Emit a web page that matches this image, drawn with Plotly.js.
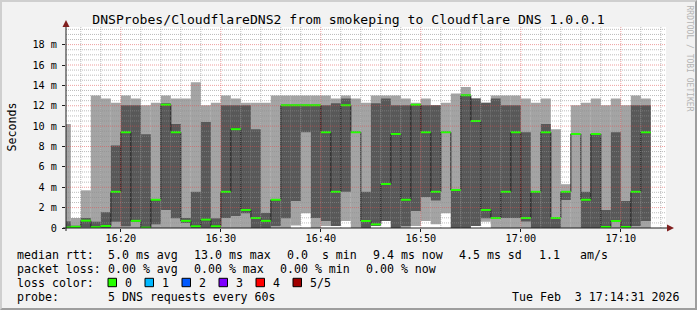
<!DOCTYPE html>
<html><head><meta charset="utf-8">
<script src="https://cdn.plot.ly/plotly-3.0.1.min.js"></script>
<style>
html,body{margin:0;padding:0;background:#f2f2f2;}
#wrap{position:relative;width:697px;height:310px;overflow:hidden;}
#chart{width:697px;height:310px;}
#frame{position:absolute;left:0;top:0;width:697px;height:310px;box-sizing:border-box;border:2px solid;border-color:#cfcfcf #9e9e9e #9e9e9e #cfcfcf;pointer-events:none;}
</style>
</head><body>
<div id="wrap"><div id="chart"></div><div id="frame"></div></div>
<script>
// ---- data (milliseconds): sorted DNS probe times per 1-minute step, first step starts 16:14 ----
const firstStep = Date.UTC(2026, 1, 3, 16, 14, 0);
const stepMs = 60000;
const pingMin = [0,0,0,0,0,0,0,0,0,0,
  0,0,0,0,0,0,0,0,0,0,
  0,0,0,0.25,1.45,0,0.2,0.2,0.69,0,
  0,0.2,0.69,0,0,0.2,0.69,0.36,1.45,0,
  0,0.2,0.62,0,0,0,0,0,0,0,
  0,0,0,0,0,0,0,0,0];
const ping2 = [0,0,0.05,0,0,0.62,0.18,0.62,0,0.36,
  1.77,0.95,0.5,0,0,0,0.98,1.18,1.45,0,
  0,0.2,0.95,2.65,9.4,0.97,0.69,0.2,3.55,9.38,
  0,0.2,0.69,0,0.2,1.66,3.04,2.7,9.38,0,
  0,0.2,0.95,0.9,0.97,0.97,0.65,0,0,0,
  2.75,9.2,0,0,0,0.65,0,0.2,0.69];
const median = [0.05,0.12,0.72,0.08,0.2,3.55,9.4,0.7,0.03,2.77,
  12.1,9.4,0.7,0.17,0.82,0.17,3.55,9.7,1.77,0.98,
  0.7,2.77,12.05,12.05,12.05,12.05,9.4,3.55,12.05,9.4,
  0.69,0.36,4.32,9.23,2.77,12.1,9.4,3.55,9.4,3.73,
  13.03,10.5,1.77,0.98,3.55,9.4,0.98,3.55,9.4,0.98,
  3.55,9.23,2.77,9.23,0.1,0.69,0.1,3.55,9.4];
const ping4 = [0.65,0.22,0.98,0.62,1.55,8.1,12.05,12.05,9.2,2.8,
  12.25,10.2,0.98,3.55,10.4,0.95,12.05,12.05,12.05,9.7,
  1.47,2.8,12.07,12.07,12.07,12.07,12.05,12.25,12.7,9.42,
  3.55,12.25,12.7,12.05,12.05,12.12,12.05,12.05,9.42,3.75,
  13.05,12.7,12.3,12.7,12.05,12.05,9.4,3.6,10.2,1.0,
  3.57,9.3,3.55,9.25,1.77,9.4,2.65,12.05,12.05];
const pingMax = [10.2,0.98,3.7,13.0,12.7,12.3,13.0,12.7,12.05,12.3,
  13.0,12.7,12.7,14.3,12.05,12.3,13.0,12.7,12.3,12.3,
  12.3,13.0,13.0,13.0,13.0,13.0,13.0,12.7,13.0,12.7,
  12.3,13.0,13.0,13.0,12.7,12.3,12.7,12.07,12.3,13.2,
  13.85,12.7,12.3,13.0,13.0,13.0,12.7,12.3,12.7,9.7,
  4.3,12.05,12.3,12.7,12.05,12.7,12.05,13.0,12.7];

const yTickVals = [0,2,4,6,8,10,12,14,16,18];
const yTickText = ['0','2 m','4 m','6 m','8 m','10 m','12 m','14 m','16 m','18 m'];
const xTickText = ['16:20','16:30','16:40','16:50','17:00','17:10'];
const lossLabels = ['0','1','2','3','4','5/5'];
const lossColors = ['#26ff00','#00b8ff','#0059ff','#7e00ff','#ff0000','#a00000'];

// ---- geometry ----
const W = 697, H = 310;
const M = {l:66, r:31, t:27, b:82};
const PW = W - M.l - M.r, PH = H - M.t - M.b;
const yMax = 19.73;
const rangeStart = Date.UTC(2026,1,3,16,14,31), rangeEnd = Date.UTC(2026,1,3,17,14,31);
const px = x => (x - M.l) / PW;
const py = y => (H - M.b - y) / PH;
const mono = 'DejaVu Sans Mono';

const starts = pingMax.map((_, i) => firstStep + i * stepMs);
const centers = starts.map(t => t + stepMs / 2);
const xTickVals = xTickText.map(s => { const [h,m] = s.split(':').map(Number); return Date.UTC(2026,1,3,h,m,0); });

const traces = [
  {type:'bar', x:centers, base:pingMin, y:pingMax.map((v,i)=>v-pingMin[i]), width:stepMs,
   marker:{color:'#a4a4a4', line:{width:0}}, hoverinfo:'skip', showlegend:false},
  {type:'bar', x:centers, base:ping2, y:ping4.map((v,i)=>v-ping2[i]), width:stepMs,
   marker:{color:'#585858', line:{width:0}}, hoverinfo:'skip', showlegend:false},
  {type:'scatter', mode:'lines', x:starts.concat([starts[starts.length-1]+stepMs]),
   y:median.concat([median[median.length-1]]), line:{shape:'hv', color:'#202020', width:1},
   hoverinfo:'skip', showlegend:false},
];
const gx = [], gy = [];
starts.forEach((t, i) => { gx.push(t, t + stepMs, null); gy.push(median[i], median[i], null); });
traces.push({type:'scatter', mode:'lines', x:gx, y:gy, line:{color:lossColors[0], width:2},
  hoverinfo:'skip', showlegend:false, connectgaps:false});

// ---- grid (drawn above the smoke, like rrdtool) ----
const shapes = [];
const minorCol = 'rgba(143,143,143,0.6)', majorCol = 'rgba(222,79,79,0.55)';
for (let i = 1; i * 0.5 < yMax; i++) {
  const v = i * 0.5, major = (i % 4 === 0);
  shapes.push({type:'line', layer:'above', xref:'paper', yref:'y', x0:0, x1:1, y0:v, y1:v,
    line:{color: major ? majorCol : minorCol, width:1, dash:'1px,1px'}});
}
const hour16 = Date.UTC(2026,1,3,16,0,0);
for (let m = 16; m <= 74; m += 2) {
  const t = hour16 + m * 60000, major = (m % 10 === 0);
  shapes.push({type:'line', layer:'above', xref:'x', yref:'paper', x0:t, x1:t, y0:0, y1:1,
    line:{color: major ? majorCol : minorCol, width:1, dash:'1px,1px'}});
}
// axes + arrows
const axisCol = '#1f1f1f', arrowCol = '#801f1f';
shapes.push({type:'line', layer:'above', xref:'paper', yref:'paper', x0:px(63), x1:px(669), y0:py(228), y1:py(228), line:{color:axisCol, width:1}});
shapes.push({type:'line', layer:'above', xref:'paper', yref:'paper', x0:px(66), x1:px(66), y0:py(231), y1:py(24), line:{color:axisCol, width:1}});
shapes.push({type:'path', layer:'above', xref:'paper', yref:'paper',
  path:`M ${px(667)},${py(224.5)} L ${px(674)},${py(228)} L ${px(667)},${py(231.5)} Z`, fillcolor:arrowCol, line:{width:0}});
shapes.push({type:'path', layer:'above', xref:'paper', yref:'paper',
  path:`M ${px(62.5)},${py(27)} L ${px(66)},${py(20)} L ${px(69.5)},${py(27)} Z`, fillcolor:arrowCol, line:{width:0}});

// ---- legend text ----
const ann = [];
const addText = (x, y, text, opts={}) => ann.push(Object.assign({xref:'paper', yref:'paper', x:px(x), y:py(y), text,
  showarrow:false, xanchor:'left', yanchor:'middle', borderpad:0, font:{family:mono, size:11.6, color:'#000'}}, opts));
const rows = [
  [254.5, [[16,'median rtt:'],[107,'5.0 ms avg'],[193,'13.0 ms max'],[286,'0.0\u00a0\u00a0s min'],[372,'9.4 ms now'],[458,'4.5 ms sd'],[538,'1.1'],[579,'am/s']]],
  [268.5, [[16,'packet loss:'],[107,'0.00 % avg'],[193,'0.00 % max'],[279,'0.00 % min'],[365,'0.00 % now']]],
  [282.5, [[16,'loss color:']]],
  [296.5, [[16,'probe:'],[107,'5 DNS requests every 60s']]],
];
rows.forEach(([y, items]) => items.forEach(([x, t]) => addText(x, y, t)));
lossLabels.forEach((lab, i) => {
  const bx = 108 + i * 37;
  shapes.push({type:'rect', xref:'paper', yref:'paper', x0:px(bx), x1:px(bx+8.5), y0:py(278.3), y1:py(286.7),
    fillcolor:lossColors[i], line:{color:'#000', width:1}});
  addText(bx + 16, 282.5, lab);
});
addText(681, 296.5, 'Tue Feb\u00a0\u00a03 17:14:31 2026', {xanchor:'right'});
addText(11, 127.5, 'Seconds', {xanchor:'center', textangle:-90});
addText(688.5, 58, 'RRDTOOL / TOBI OETIKER', {xanchor:'center', textangle:90, font:{family:mono, size:8, color:'#b4b4b4'}});

const layout = {
  width:W, height:H, margin:M, paper_bgcolor:'#f2f2f2', plot_bgcolor:'#ffffff',
  barmode:'overlay', showlegend:false, hovermode:false,
  title:{text:'DNSProbes/CloudflareDNS2 from smokeping to Cloudflare DNS 1.0.0.1',
    font:{family:mono, size:13.1, color:'#000'}, x:0.5, xanchor:'center', xref:'container',
    y:1 - 19/H, yanchor:'middle', yref:'container'},
  xaxis:{type:'date', range:[rangeStart, rangeEnd], tickvals:xTickVals, ticktext:xTickText,
    ticks:'outside', ticklen:3, tickcolor:axisCol, showgrid:false, zeroline:false, showline:false,
    tickfont:{family:mono, size:10.2, color:'#000'}, fixedrange:true, ticklabelstandoff:-2},
  yaxis:{range:[0, yMax], tickvals:yTickVals, ticktext:yTickText, ticks:'outside', ticklen:3,
    tickcolor:axisCol, showgrid:false, zeroline:false, showline:false,
    tickfont:{family:mono, size:10.2, color:'#000'}, fixedrange:true, ticklabelstandoff:3},
  shapes, annotations:ann,
};
Plotly.newPlot('chart', traces, layout, {staticPlot:true, displayModeBar:false});
</script>
</body></html>
